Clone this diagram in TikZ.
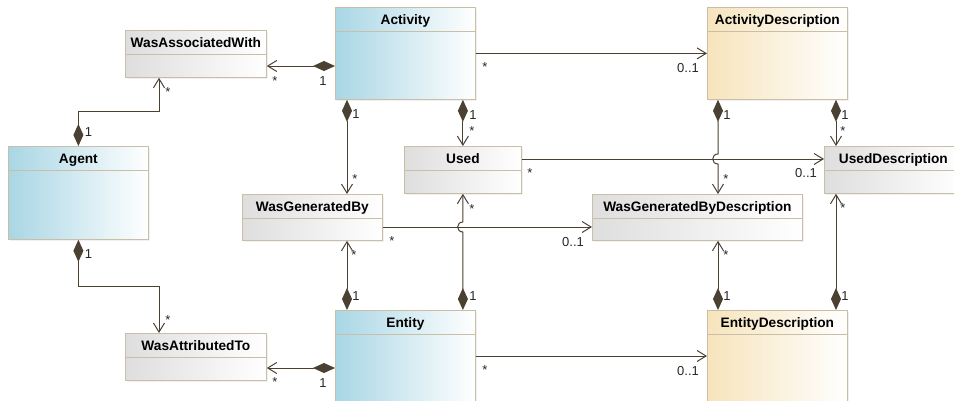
\documentclass[tikz,border=0pt]{standalone}
\usepackage{fontspec}
\setmainfont{Liberation Sans}
\usetikzlibrary{arrows.meta,shadows}
\definecolor{umlline}{HTML}{4B4133}
\definecolor{umlborder}{HTML}{C9BFA6}
\definecolor{classblue}{HTML}{A9D6E5}
\definecolor{classgray}{HTML}{DEDEDE}
\definecolor{classtan}{HTML}{F6E4BC}
\tikzset{
  umlclass/.style={
    draw=umlborder,
    anchor=north west,
    inner sep=0pt,
    line width=0.8pt,
    right color=white,
    drop shadow={shadow xshift=1.5pt, shadow yshift=-1.5pt, opacity=0.12},
  },
  blueclass/.style={umlclass, left color=classblue},
  grayclass/.style={umlclass, left color=classgray},
  tanclass/.style={umlclass, left color=classtan},
  title/.style={
    anchor=north,
    inner sep=0pt,
    minimum height=23.5pt,
    text height=12pt,
    text depth=1.5pt,
    font=\bfseries\fontsize{13.7}{16}\selectfont,
  },
  sep/.style={draw=umlborder, line width=0.6pt},
  comp/.style={draw=umlline, line width=1pt,
    arrows={Diamond[length=22pt,width=10pt]-Straight Barb[length=9pt,width=11pt]}},
  assoc/.style={draw=umlline, line width=1pt,
    arrows={-Straight Barb[length=9pt,width=11pt]}},
  mult/.style={anchor=base, inner sep=0pt, text=black!85,
    font=\fontsize{13}{13}\selectfont},
}
\begin{document}
\begin{tikzpicture}[x=1pt, y=-1pt]
  \useasboundingbox (0,0) rectangle (954,400);
  % classes
  \node[blueclass, minimum width=140pt, minimum height=92pt] (act) at (335,7) {};
  \node[grayclass, minimum width=141pt, minimum height=47pt] (waw) at (125,30) {};
  \node[blueclass, minimum width=140pt, minimum height=93pt] (agent) at (8,146) {};
  \node[grayclass, minimum width=117pt, minimum height=47pt] (used) at (404,146) {};
  \node[grayclass, minimum width=140pt, minimum height=46pt] (wgb) at (242,194) {};
  \node[grayclass, minimum width=141pt, minimum height=47pt] (wat) at (125,333) {};
  \node[blueclass, minimum width=140pt, minimum height=92pt] (ent) at (335,310) {};
  \node[tanclass, minimum width=140pt, minimum height=92pt] (ad) at (707,7) {};
  \node[grayclass, minimum width=138pt, minimum height=47pt] (ud) at (824,146) {};
  \node[grayclass, minimum width=210pt, minimum height=46pt] (wgbd) at (592,194) {};
  \node[tanclass, minimum width=140pt, minimum height=92pt] (ed) at (707,310) {};
  % class names and header lines
  \foreach \c/\t in {act/Activity, waw/WasAssociatedWith, agent/Agent, used/Used,
      wgb/WasGeneratedBy, wat/WasAttributedTo, ent/Entity, ad/ActivityDescription,
      ud/UsedDescription, wgbd/WasGeneratedByDescription, ed/EntityDescription} {
    \node[title] (\c-title) at (\c.north) {\t};
    \draw[sep] (\c.north west |- \c-title.south) -- (\c.north east |- \c-title.south);
  }
  % compositions
  \draw[comp] (act.west |- 0,66) -- (waw.east |- 0,66)
    node[mult, at start, shift={(-12,19)}] {1} node[mult, at end, shift={(8,19)}] {*};
  \draw[comp] (agent.north) -- ++(0,-35) node[mult, at start, shift={(10,-10)}] {1}
    -| (waw.south -| 159,0) node[mult, at end, shift={(9,19)}] {*};
  \draw[comp] (act.south -| used.north) -- (used.north)
    node[mult, at start, shift={(10,20)}] {1} node[mult, at end, shift={(9,-11)}] {*};
  \draw[comp] (act.south -| 347,0) -- (wgb.north -| 347,0)
    node[mult, at start, shift={(9,19)}] {1} node[mult, at end, shift={(8,-11)}] {*};
  \draw[comp] (ad.south -| 718,0) -- (718,154) node[mult, at start, shift={(9,20)}] {1}
    .. controls +(-7,0) and +(-7,0) .. (718,164)
    -- (wgbd.north -| 718,0) node[mult, at end, shift={(8,-11)}] {*};
  \draw[comp] (ad.south -| 836,0) -- (ud.north -| 836,0)
    node[mult, at start, shift={(9,20)}] {1} node[mult, at end, shift={(7,-11)}] {*};
  \draw[comp] (ent.north -| 347,0) -- (wgb.south -| 347,0)
    node[mult, at start, shift={(9,-10)}] {1} node[mult, at end, shift={(7,19)}] {*};
  \draw[comp] (ent.north -| used.south) -- (used.south |- 0,232)
    node[mult, at start, shift={(10,-10)}] {1}
    .. controls +(-7,0) and +(-7,0) .. (used.south |- 0,222)
    -- (used.south) node[mult, at end, shift={(9,20)}] {*};
  \draw[comp] (ent.west |- 0,368) -- (wat.east |- 0,368)
    node[mult, at start, shift={(-12,19)}] {1} node[mult, at end, shift={(8,18)}] {*};
  \draw[comp] (agent.south) -- ++(0,47) node[mult, at start, shift={(10,19)}] {1}
    -| (wat.north -| 159,0) node[mult, at end, shift={(9,-9)}] {*};
  \draw[comp] (ed.north -| 718,0) -- (wgbd.south -| 718,0)
    node[mult, at start, shift={(9,-10)}] {1} node[mult, at end, shift={(8,19)}] {*};
  \draw[comp] (ed.north -| 836,0) -- (ud.south -| 836,0)
    node[mult, at start, shift={(9,-10)}] {1} node[mult, at end, shift={(7,19)}] {*};
  % associations
  \draw[assoc] (act.east) -- (ad.west)
    node[mult, at start, shift={(9,18)}] {*} node[mult, at end, shift={(-19,19)}] {0..1};
  \draw[assoc] (used.east |- 0,159) -- (ud.west |- 0,159)
    node[mult, at start, shift={(8,18)}] {*} node[mult, at end, shift={(-18,18)}] {0..1};
  \draw[assoc] (wgb.east |- 0,227) -- (wgbd.west |- 0,227)
    node[mult, at start, shift={(9,18)}] {*} node[mult, at end, shift={(-19,19)}] {0..1};
  \draw[assoc] (ent.east |- 0,356) -- (ed.west |- 0,356)
    node[mult, at start, shift={(9,18)}] {*} node[mult, at end, shift={(-19,19)}] {0..1};
\end{tikzpicture}
\end{document}
